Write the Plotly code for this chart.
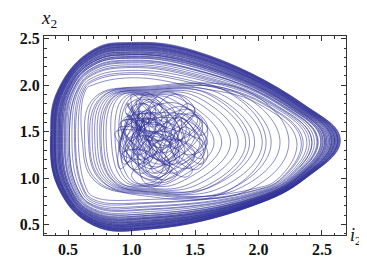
import plotly.graph_objects as go

# ---------------- data ----------------
# Outer band: per-loop crossing values at fixed keypoints (radial coordinate)
left_i = [0.36, 0.41, 0.38, 0.47, 0.37, 0.44, 0.51, 0.39, 0.43, 0.49, 0.365, 0.45, 0.55, 0.40, 0.42, 0.50, 0.38, 0.45, 0.58, 0.40, 0.48, 0.39, 0.53, 0.43, 0.37, 0.46,
          0.367, 0.395, 0.422, 0.38, 0.457, 0.362, 0.413, 0.389, 0.439, 0.375, 0.474, 0.402, 0.428, 0.371, 0.51, 0.384, 0.448, 0.393, 0.419, 0.558, 0.373, 0.406, 0.435, 0.397]
lowleft_i = [0.42, 0.47, 0.44, 0.53, 0.43, 0.50, 0.57, 0.45, 0.49, 0.55, 0.425, 0.51, 0.61, 0.46, 0.48, 0.56, 0.44, 0.51, 0.64, 0.46, 0.54, 0.45, 0.59, 0.49, 0.43, 0.52,
             0.427, 0.455, 0.482, 0.44, 0.517, 0.422, 0.473, 0.449, 0.499, 0.435, 0.534, 0.462, 0.488, 0.431, 0.57, 0.444, 0.508, 0.453, 0.479, 0.618, 0.433, 0.466, 0.495, 0.457]
botleft_x2 = [0.49, 0.56, 0.52, 0.64, 0.50, 0.60, 0.71, 0.53, 0.58, 0.67, 0.495, 0.62, 0.75, 0.55, 0.57, 0.69, 0.52, 0.61, 0.80, 0.55, 0.66, 0.53, 0.73, 0.59, 0.51, 0.63,
              0.499, 0.54, 0.577, 0.518, 0.626, 0.493, 0.564, 0.53, 0.602, 0.512, 0.651, 0.549, 0.586, 0.506, 0.701, 0.524, 0.614, 0.537, 0.574, 0.769, 0.509, 0.555, 0.595, 0.543]
bottom_x2 = [0.45, 0.53, 0.47, 0.60, 0.46, 0.57, 0.69, 0.50, 0.54, 0.64, 0.455, 0.58, 0.73, 0.51, 0.52, 0.66, 0.48, 0.57, 0.77, 0.52, 0.62, 0.49, 0.70, 0.55, 0.47, 0.60,
             0.46, 0.501, 0.54, 0.479, 0.591, 0.453, 0.527, 0.492, 0.565, 0.472, 0.616, 0.511, 0.549, 0.466, 0.668, 0.485, 0.578, 0.498, 0.536, 0.738, 0.469, 0.517, 0.559, 0.504]
botright_x2 = [0.70, 0.745, 0.715, 0.785, 0.705, 0.76, 0.83, 0.725, 0.75, 0.81, 0.70, 0.775, 0.855, 0.73, 0.745, 0.815, 0.72, 0.765, 0.88, 0.735, 0.80, 0.72, 0.84, 0.76, 0.71, 0.78,
               0.705, 0.729, 0.75, 0.716, 0.779, 0.702, 0.743, 0.723, 0.765, 0.713, 0.794, 0.734, 0.756, 0.709, 0.822, 0.72, 0.772, 0.727, 0.749, 0.862, 0.711, 0.738, 0.761, 0.731]
lowright_i = [2.375, 2.33, 2.36, 2.27, 2.365, 2.30, 2.22, 2.345, 2.31, 2.25, 2.37, 2.285, 2.19, 2.335, 2.32, 2.24, 2.355, 2.295, 2.16, 2.33, 2.255, 2.35, 2.205, 2.305, 2.36, 2.275,
              2.369, 2.341, 2.315, 2.356, 2.28, 2.373, 2.323, 2.347, 2.298, 2.36, 2.263, 2.334, 2.308, 2.364, 2.229, 2.351, 2.289, 2.343, 2.317, 2.182, 2.362, 2.33, 2.302, 2.338]
tip_i = [2.645, 2.57, 2.62, 2.47, 2.63, 2.52, 2.40, 2.60, 2.54, 2.44, 2.64, 2.50, 2.35, 2.58, 2.56, 2.42, 2.61, 2.51, 2.30, 2.575, 2.46, 2.60, 2.38, 2.53, 2.625, 2.49,
         2.635, 2.59, 2.548, 2.614, 2.493, 2.642, 2.562, 2.60, 2.521, 2.621, 2.466, 2.579, 2.538, 2.628, 2.42, 2.607, 2.507, 2.593, 2.552, 2.335, 2.624, 2.573, 2.528, 2.586]
upright_i = [2.35, 2.27, 2.32, 2.175, 2.335, 2.23, 2.10, 2.30, 2.245, 2.15, 2.345, 2.20, 2.05, 2.29, 2.26, 2.125, 2.315, 2.215, 2.00, 2.28, 2.16, 2.31, 2.08, 2.235, 2.33, 2.19,
             2.34, 2.294, 2.252, 2.318, 2.196, 2.347, 2.266, 2.305, 2.224, 2.325, 2.168, 2.284, 2.242, 2.333, 2.112, 2.312, 2.21, 2.298, 2.256, 2.035, 2.329, 2.277, 2.231, 2.29]
upper_x2 = [2.37, 2.28, 2.34, 2.17, 2.355, 2.23, 2.09, 2.31, 2.25, 2.14, 2.36, 2.21, 2.04, 2.30, 2.27, 2.12, 2.33, 2.22, 1.98, 2.29, 2.16, 2.32, 2.07, 2.24, 2.35, 2.19,
            2.358, 2.308, 2.261, 2.335, 2.198, 2.366, 2.276, 2.319, 2.23, 2.343, 2.167, 2.296, 2.249, 2.351, 2.105, 2.327, 2.214, 2.312, 2.265, 2.019, 2.347, 2.288, 2.237, 2.304]
top_x2 = [2.46, 2.375, 2.43, 2.27, 2.445, 2.33, 2.19, 2.41, 2.345, 2.24, 2.45, 2.30, 2.135, 2.39, 2.36, 2.22, 2.42, 2.31, 2.08, 2.38, 2.25, 2.41, 2.16, 2.33, 2.44, 2.29,
          2.449, 2.399, 2.354, 2.426, 2.293, 2.456, 2.369, 2.411, 2.323, 2.433, 2.262, 2.388, 2.342, 2.441, 2.202, 2.418, 2.308, 2.403, 2.357, 2.118, 2.437, 2.38, 2.331, 2.395]
corner_x2 = [2.385, 2.30, 2.355, 2.195, 2.37, 2.255, 2.115, 2.335, 2.27, 2.165, 2.375, 2.225, 2.06, 2.315, 2.285, 2.145, 2.345, 2.235, 2.005, 2.305, 2.175, 2.335, 2.085, 2.255, 2.365, 2.215,
             2.374, 2.324, 2.279, 2.351, 2.218, 2.381, 2.294, 2.336, 2.248, 2.358, 2.187, 2.313, 2.267, 2.366, 2.127, 2.343, 2.233, 2.328, 2.282, 2.043, 2.362, 2.305, 2.256, 2.32]
topleft_i = [0.42, 0.47, 0.44, 0.535, 0.43, 0.50, 0.585, 0.45, 0.49, 0.555, 0.425, 0.52, 0.615, 0.46, 0.48, 0.57, 0.445, 0.51, 0.64, 0.465, 0.545, 0.45, 0.60, 0.495, 0.435, 0.525,
             0.427, 0.457, 0.484, 0.441, 0.521, 0.422, 0.475, 0.45, 0.503, 0.436, 0.54, 0.464, 0.491, 0.431, 0.576, 0.445, 0.512, 0.454, 0.482, 0.627, 0.434, 0.468, 0.498, 0.459]
# fixed along-coordinates of the keypoints
left_x2, lowleft_x2, botleft_i, bottom_i, botright_i = 1.45, 0.90, 0.70, 1.15, 1.95
lowright_x2, tip_x2, upright_x2, upper_i, top_i, corner_i, topleft_x2 = 1.00, 1.41, 1.80, 1.50, 1.00, 0.70, 1.95

# Intermediate loops: extents (left, right, top, bottom)
mid_left   = [0.61, 0.63, 0.66, 0.67, 0.69, 0.71, 0.73, 0.75, 0.76, 0.78, 0.80, 0.84, 0.87, 0.90]
mid_right  = [2.24, 2.10, 2.17, 2.06, 2.03, 1.90, 1.97, 1.93, 1.84, 1.71, 1.78, 1.65, 1.59, 1.54]
mid_top    = [1.98, 1.97, 1.96, 1.99, 1.95, 1.93, 1.94, 1.95, 1.92, 1.90, 1.91, 1.89, 1.88, 1.87]
mid_bottom = [0.82, 0.83, 0.84, 0.80, 0.85, 0.86, 0.87, 0.85, 0.88, 0.91, 0.89, 0.92, 0.93, 0.95]

# Central tangle: small loops (centre, half-widths, tilt)
core_ci = [1.10, 1.20, 1.05, 1.15, 1.25, 1.08, 1.18, 1.30, 1.12, 1.22, 1.35, 1.05, 1.15, 1.00, 1.40,
           1.30, 1.12, 1.25, 1.18, 1.08, 1.20, 1.28, 1.15, 1.10, 1.38, 1.02, 1.22, 1.18, 1.45, 1.10,
           1.05, 1.12, 1.00, 1.18, 1.08, 1.15, 1.02, 1.22, 1.10, 1.28, 0.98, 1.14, 1.20, 1.06, 1.25,
           1.12, 1.32, 1.04, 1.16, 1.09, 1.42, 1.48, 1.38, 1.50, 1.35, 1.44, 1.30, 1.46, 1.40, 1.36]
core_cx = [1.55, 1.50, 1.45, 1.35, 1.40, 1.30, 1.60, 1.55, 1.20, 1.25, 1.35, 1.65, 1.70, 1.40, 1.45,
           1.20, 1.45, 1.65, 1.10, 1.50, 1.40, 1.48, 1.55, 1.35, 1.30, 1.55, 1.75, 1.25, 1.40, 1.60,
           1.60, 1.70, 1.50, 1.45, 1.25, 1.15, 1.35, 1.55, 1.40, 1.30, 1.60, 1.80, 1.05, 1.75, 1.20,
           1.00, 1.45, 1.45, 1.62, 1.30, 1.50, 1.35, 1.20, 1.60, 1.65, 1.25, 1.40, 1.45, 1.55, 1.15]
core_ri = [0.18, 0.20, 0.14, 0.22, 0.25, 0.15, 0.20, 0.22, 0.18, 0.20, 0.22, 0.14, 0.20, 0.10, 0.20,
           0.20, 0.25, 0.25, 0.18, 0.12, 0.15, 0.28, 0.12, 0.20, 0.18, 0.10, 0.22, 0.12, 0.15, 0.16,
           0.10, 0.12, 0.08, 0.14, 0.12, 0.10, 0.09, 0.12, 0.15, 0.10, 0.08, 0.10, 0.12, 0.09, 0.10,
           0.12, 0.11, 0.10, 0.13, 0.08, 0.14, 0.12, 0.12, 0.10, 0.15, 0.13, 0.16, 0.12, 0.14, 0.12]
core_rx = [0.30, 0.32, 0.28, 0.30, 0.28, 0.25, 0.25, 0.22, 0.22, 0.25, 0.25, 0.22, 0.20, 0.30, 0.20,
           0.22, 0.35, 0.25, 0.15, 0.20, 0.20, 0.33, 0.15, 0.15, 0.16, 0.25, 0.18, 0.20, 0.25, 0.12,
           0.20, 0.15, 0.22, 0.18, 0.16, 0.14, 0.20, 0.16, 0.25, 0.15, 0.18, 0.12, 0.12, 0.15, 0.14,
           0.10, 0.18, 0.25, 0.18, 0.14, 0.18, 0.20, 0.15, 0.14, 0.15, 0.16, 0.22, 0.24, 0.15, 0.14]
core_tilt = [0.05, -0.06, 0.08, -0.04, 0.06, 0.0, -0.08, 0.07, -0.05, 0.04, -0.07, 0.06, -0.03, 0.09, -0.06,
             0.05, -0.04, 0.07, -0.05, 0.08, -0.02, 0.06, -0.07, 0.04, 0.08, -0.06, 0.03, -0.08, 0.07, -0.04,
             0.06, -0.05, 0.07, -0.06, 0.05, -0.03, 0.08, -0.07, 0.04, -0.05, 0.06, -0.04, 0.05, -0.06, 0.07,
             -0.03, 0.06, -0.08, 0.05, -0.04, 0.09, -0.07, 0.06, -0.05, 0.08, -0.06, 0.07, -0.08, 0.05, -0.06]

x_ticks = [0.5, 1.0, 1.5, 2.0, 2.5]
y_ticks = [0.5, 1.0, 1.5, 2.0, 2.5]

# ---------------- assemble trajectory ----------------
xs, ys = [], []
# outer band visited from the outermost strand inward (smooth spiral)
order = sorted(range(len(left_i)), key=lambda k: left_i[k] + topleft_i[k])
for k in order:
    pts = [(left_i[k], left_x2), (lowleft_i[k], lowleft_x2), (botleft_i, botleft_x2[k]),
           (bottom_i, bottom_x2[k]), (botright_i, botright_x2[k]), (lowright_i[k], lowright_x2),
           (tip_i[k], tip_x2), (upright_i[k], upright_x2), (upper_i, upper_x2[k]),
           (top_i, top_x2[k]), (corner_i, corner_x2[k]), (topleft_i[k], topleft_x2)]
    for p in pts:
        xs.append(p[0]); ys.append(p[1])

for k in range(len(mid_left)):
    L, R, T, B = mid_left[k], mid_right[k], mid_top[k], mid_bottom[k]
    pts = [(L, 1.42), (L + 0.10, 0.97), (1.15, B), (R - 0.32, B + 0.05), (R, 1.38),
           (R - 0.32, T - 0.05), (1.15, T), (L + 0.10, 1.87)]
    for p in pts:
        xs.append(p[0]); ys.append(p[1])

for k in range(len(core_ci)):
    c, d, a, b, t = core_ci[k], core_cx[k], core_ri[k], core_rx[k], core_tilt[k]
    pts = [(c - a, d - t), (c - t, d - b), (c + a, d + t), (c + t, d + b)]
    for p in pts:
        xs.append(p[0]); ys.append(p[1])

fig = go.Figure()
fig.add_trace(go.Scatter(x=xs, y=ys, mode="lines",
                         line=dict(color="rgba(48,50,150,0.8)", width=0.7, shape="spline", smoothing=1.2),
                         hoverinfo="skip", showlegend=False))

serif = "Liberation Serif"
tickfont = dict(family=serif, size=16, color="#111111", weight="bold")
axis_common = dict(showgrid=False, zeroline=False, showline=True, linecolor="#333333", linewidth=1,
                   mirror="ticks", ticks="inside", ticklen=5, tickcolor="#333333", tickwidth=1,
                   minor=dict(ticks="inside", dtick=0.1, ticklen=2.5, tickcolor="#333333", tickwidth=1),
                   tickfont=tickfont)
fig.update_xaxes(range=[0.31, 2.69], tickvals=x_ticks,
                 ticktext=["%.1f" % v for v in x_ticks], tick0=0.5, **axis_common)
fig.update_yaxes(range=[0.387, 2.53], tickvals=y_ticks,
                 ticktext=["%.1f" % v for v in y_ticks], tick0=0.5, **axis_common)

fig.update_layout(width=367, height=262, margin=dict(l=27, r=29, t=28, b=26),
                  paper_bgcolor="white", plot_bgcolor="white",
                  font=dict(family=serif),
                  annotations=[
                      dict(text="<i>x</i><sub>2</sub>", x=0.0, y=1.0, xref="paper", yref="paper",
                           xanchor="center", yanchor="bottom", xshift=5, yshift=3, showarrow=False,
                           font=dict(family=serif, size=19, color="#111111")),
                      dict(text="<i>i</i><sub>2</sub>", x=1.0, y=0.0, xref="paper", yref="paper",
                           xanchor="left", yanchor="middle", xshift=2, yshift=-1, showarrow=False,
                           font=dict(family=serif, size=18, color="#111111")),
                  ])

fig.write_html("out.html")
